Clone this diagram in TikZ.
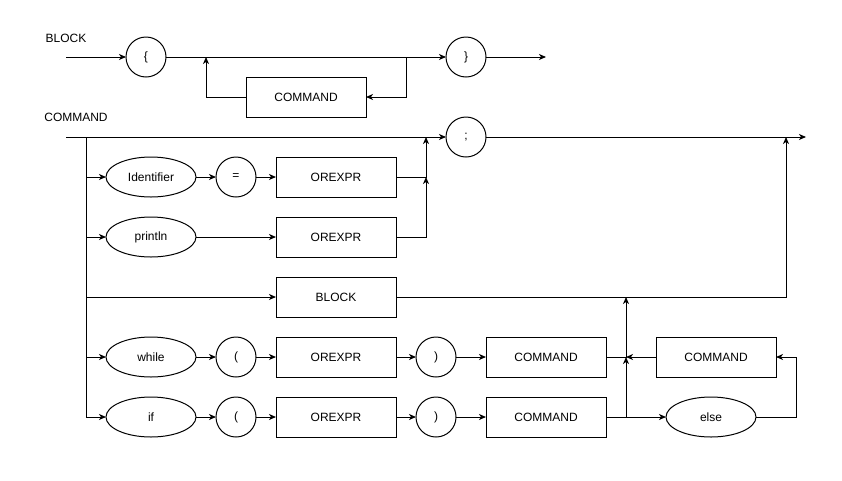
\documentclass[tikz,border=0pt]{standalone}
\usepackage{fontspec}
\setmainfont{Liberation Sans}
\usetikzlibrary{arrows.meta,shapes.geometric}
\begin{document}
\begin{tikzpicture}[x=1pt,y=-1pt,
  font=\fontsize{12pt}{14pt}\selectfont,
  every node/.style={inner sep=0pt,outer sep=0pt},
  box/.style={draw,line width=1pt,minimum width=120pt,minimum height=40pt},
  term/.style={draw,line width=1pt,circle,minimum size=40pt},
  oval/.style={draw,line width=1pt,ellipse,minimum width=90pt,minimum height=40pt},
  wire/.style={line width=1pt},
  flow/.style={wire,-{Stealth[length=7pt,width=6pt,inset=2pt]}}]
\useasboundingbox (0,0) rectangle (842,480);

% ---------- BLOCK ----------
\node (lblock) at (66,38) {BLOCK};
\coordinate (bin) at (66,57);
\node[term] (lbrace) at (146,57) {\{};
\node[term] (rbrace) at (466,57) {\}};
\coordinate (bout) at (546,57);
\node[box] (bcmd) at (306,97) {COMMAND};
\coordinate (bsplit) at (406,57);
\coordinate (bjoin) at (206,57);

\draw[flow] (bin) -- (lbrace);
\draw[flow] (lbrace) -- (rbrace);
\draw[flow] (rbrace) -- (bout);
\draw[flow] (bsplit) |- (bcmd.east);
\draw[flow] (bcmd.west) -| (bjoin);

% ---------- COMMAND ----------
\node (lcommand) at (76,117) {COMMAND};
\coordinate (cin) at (66,137);
\node[term] (semi) at (466,137) {;};
\coordinate (cout) at (806,137);
\coordinate (ctop) at (86,137);
\coordinate (cbot) at (86,417);

\draw[flow] (cin) -- (semi);
\draw[flow] (semi) -- (cout);
\draw[wire] (ctop) -- (cbot);

% assignment
\node[oval] (ident) at (151,177) {Identifier};
\node[term] (eq) at (236,177) {=};
\node[box] (ox1) at (336,177) {OREXPR};
\coordinate (a1) at (86,177);
\coordinate (j1) at (426,137);
\draw[flow] (a1) -- (ident);
\draw[flow] (ident) -- (eq);
\draw[flow] (eq) -- (ox1);
\draw[flow] (ox1.east) -| (j1);

% println
\node[oval] (println) at (151,237) {println};
\node[box] (ox2) at (336,237) {OREXPR};
\coordinate (a2) at (86,237);
\coordinate (j2) at (426,177);
\draw[flow] (a2) -- (println);
\draw[flow] (println) -- (ox2);
\draw[flow] (ox2.east) -| (j2);

% block
\node[box] (blk) at (336,297) {BLOCK};
\coordinate (a3) at (86,297);
\coordinate (j3) at (786,137);
\draw[flow] (a3) -- (blk);
\draw[flow] (blk.east) -| (j3);

% while
\node[oval] (while) at (151,357) {while};
\node[term] (wlp) at (236,357) {(};
\node[box] (ox3) at (336,357) {OREXPR};
\node[term] (wrp) at (436,357) {)};
\node[box] (wcmd) at (546,357) {COMMAND};
\coordinate (a4) at (86,357);
\coordinate (j4) at (626,297);
\draw[flow] (a4) -- (while);
\draw[flow] (while) -- (wlp);
\draw[flow] (wlp) -- (ox3);
\draw[flow] (ox3) -- (wrp);
\draw[flow] (wrp) -- (wcmd);
\draw[flow] (wcmd.east) -| (j4);

% if / else
\node[oval] (if) at (151,417) {if};
\node[term] (ilp) at (236,417) {(};
\node[box] (ox4) at (336,417) {OREXPR};
\node[term] (irp) at (436,417) {)};
\node[box] (icmd) at (546,417) {COMMAND};
\node[oval] (else) at (711,417) {else};
\node[box] (ecmd) at (716,357) {COMMAND};
\coordinate (a5) at (86,417);
\coordinate (ifsplit) at (626,417);
\coordinate (j5) at (626,357);
\coordinate (eturn) at (796,417);
\draw[flow] (a5) -- (if);
\draw[flow] (if) -- (ilp);
\draw[flow] (ilp) -- (ox4);
\draw[flow] (ox4) -- (irp);
\draw[flow] (irp) -- (icmd);
\draw[flow] (icmd) -- (else);
\draw[flow] (ifsplit) -- (j5);
\draw[flow] (else.east) -- (eturn) |- (ecmd.east);
\draw[flow] (ecmd.west) -- (j5);
\end{tikzpicture}
\end{document}
